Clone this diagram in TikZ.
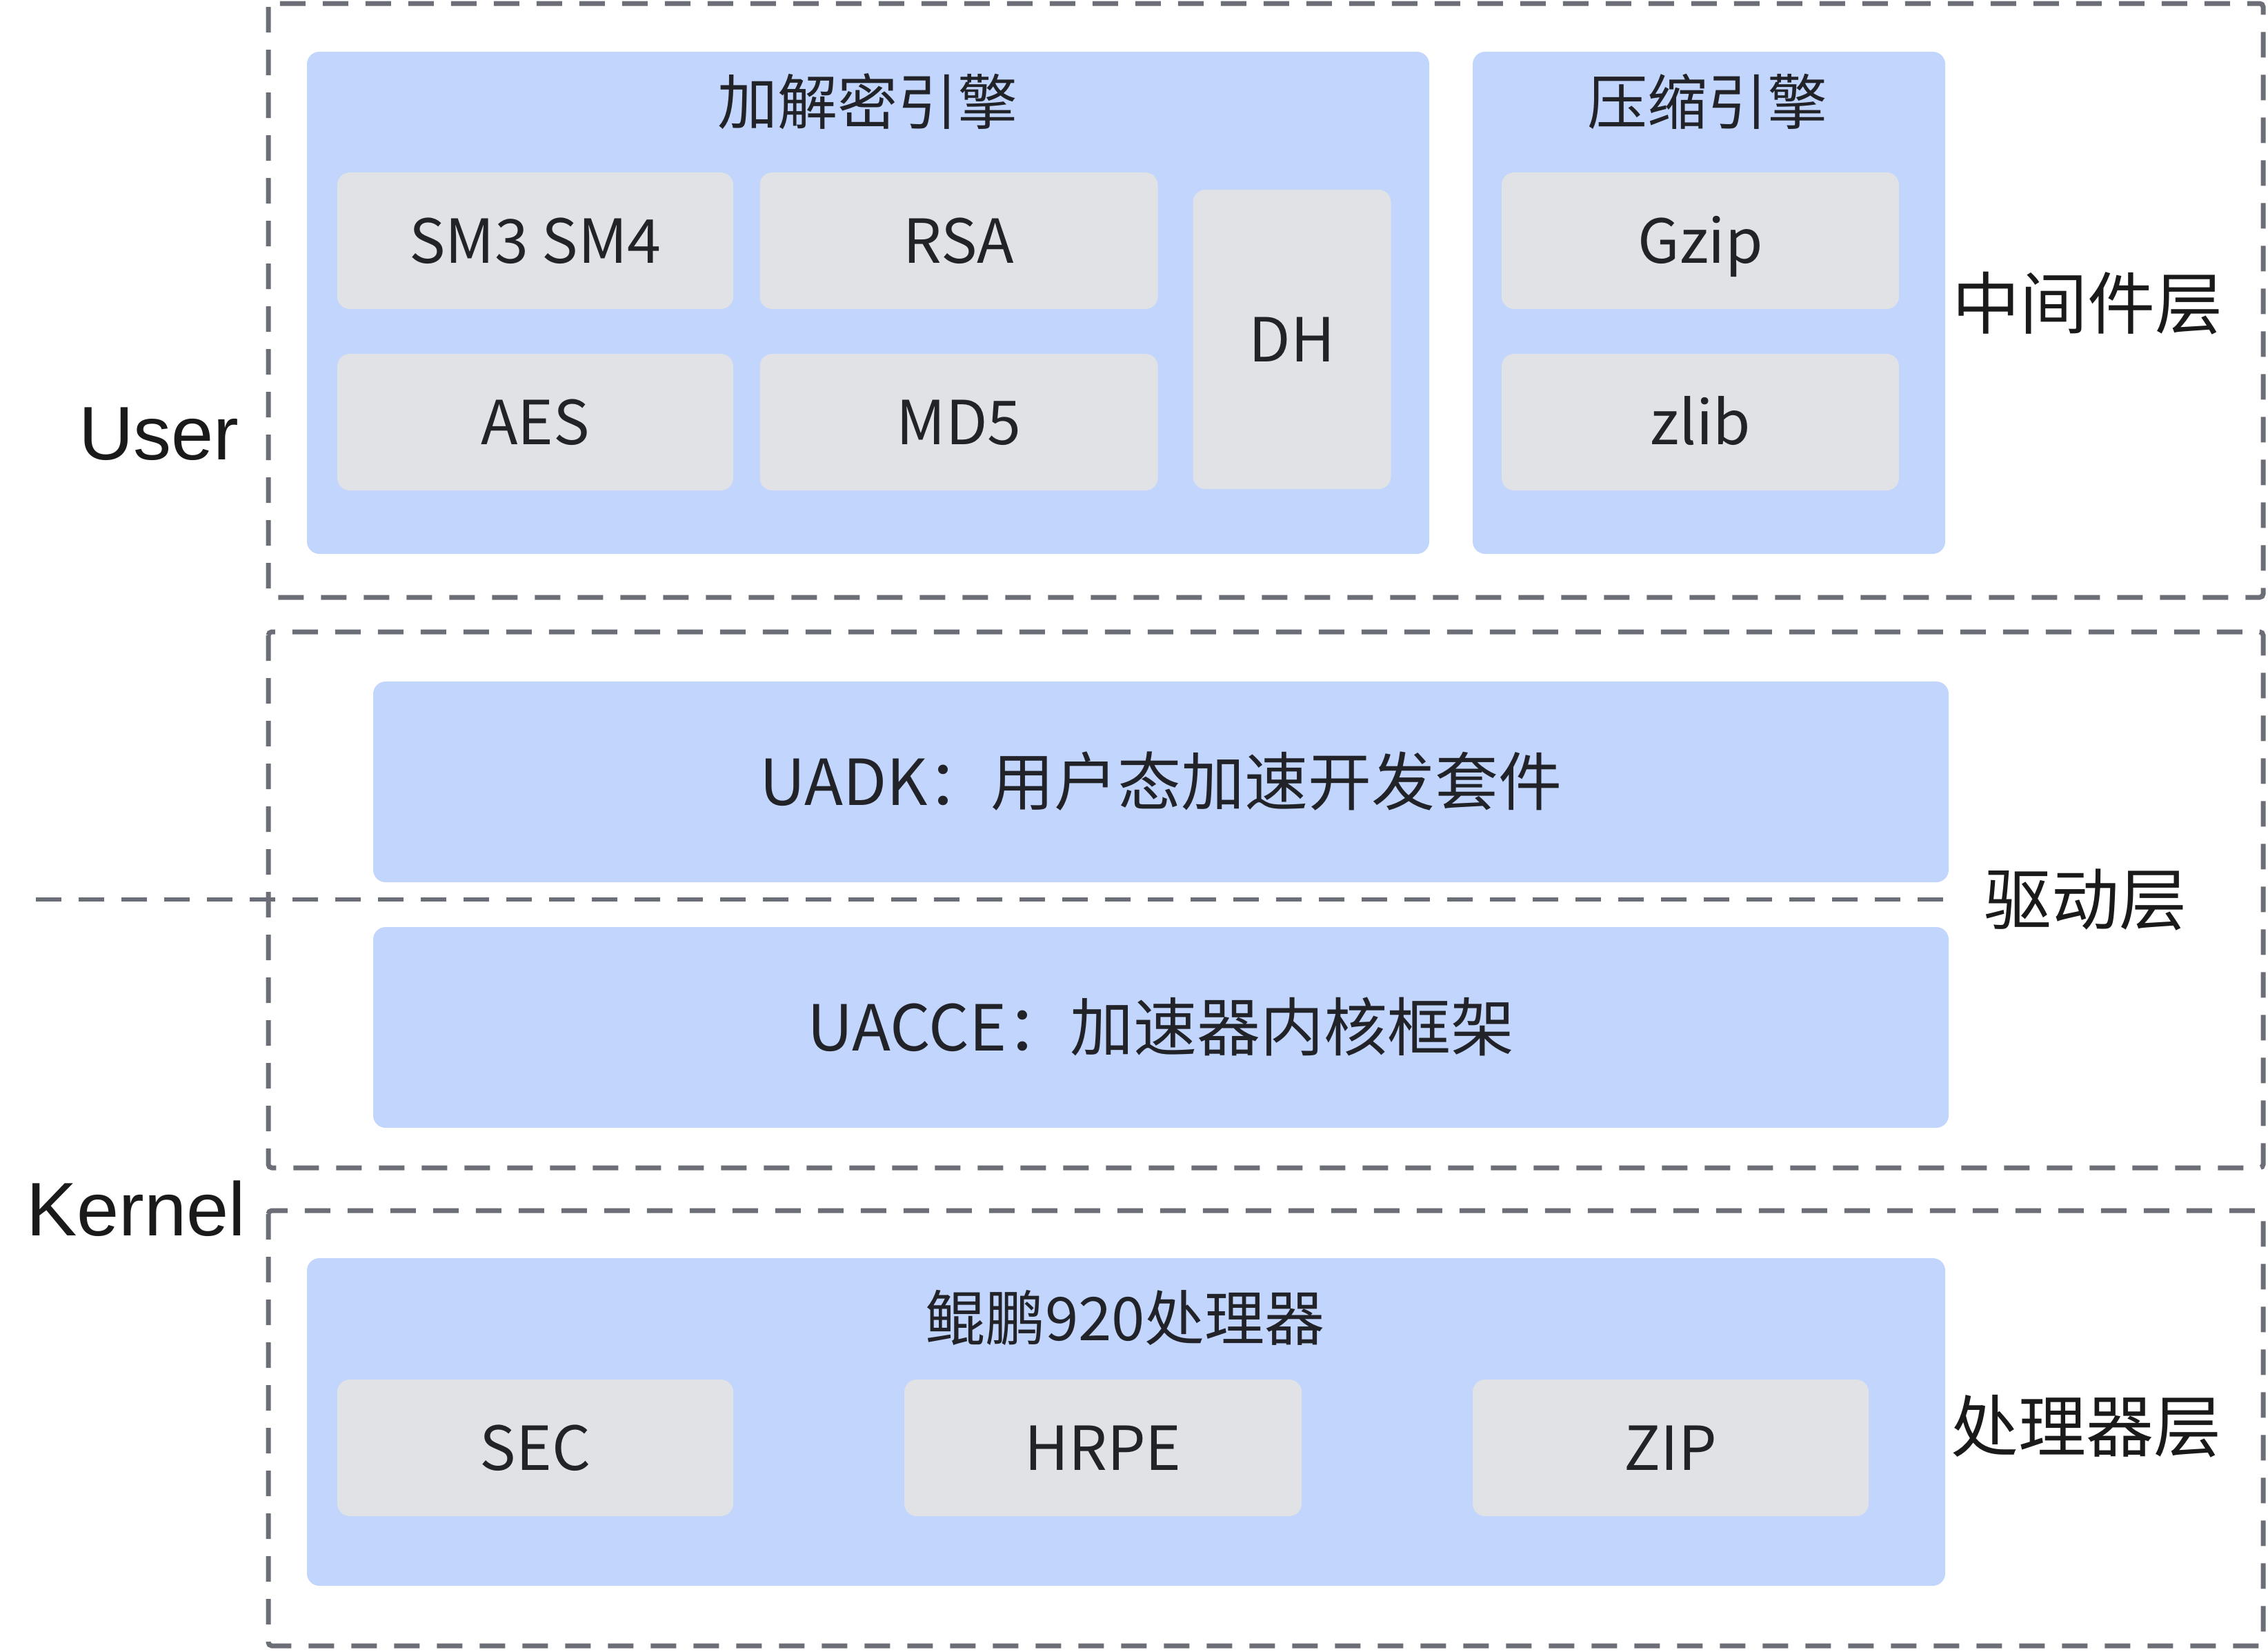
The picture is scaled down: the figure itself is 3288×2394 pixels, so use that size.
\documentclass[tikz,border=0pt]{standalone}
\usepackage{fontspec}
\setmainfont{Noto Sans CJK SC}
\newfontfamily\latinlabel{Liberation Sans}
\definecolor{blueFill}{RGB}{194,213,253}
\definecolor{grayFill}{RGB}{224,226,230}
\definecolor{dashGray}{RGB}{107,110,119}
\definecolor{innerText}{RGB}{34,35,40}
\definecolor{labelText}{RGB}{26,26,26}
\tikzset{
  layerbox/.style={draw=dashGray, line width=7pt, dash pattern=on 37pt off 25pt, rounded corners=5pt},
  layerline/.style={draw=dashGray, line width=6pt, dash pattern=on 37pt off 25pt},
  bluebox/.style={fill=blueFill, rounded corners=18pt, inner sep=0pt},
  graybox/.style={fill=grayFill, rounded corners=18pt, inner sep=0pt, text=innerText,
     font=\fontsize{88}{100}\selectfont, text height=65pt, text depth=0pt},
  titletext/.style={text=innerText, inner sep=0pt, font=\fontsize{87}{100}\selectfont, text height=64pt, text depth=0pt},
  bigtext/.style={text=innerText, inner sep=0pt, font=\fontsize{92}{100}\selectfont, text height=68pt, text depth=0pt},
  sidelabel/.style={text=labelText, inner sep=0pt, font=\fontsize{98}{110}\selectfont, text height=72pt, text depth=0pt},
  ukLabel/.style={text=labelText, inner sep=0pt, anchor=base west, font=\latinlabel\fontsize{110}{120}\selectfont},
}
\begin{document}
\begin{tikzpicture}[x=1pt,y=-1pt]
\useasboundingbox (0,0) rectangle (3288,2394);
% layer frames
\draw[layerbox] (389,5) rectangle (3281,866);
\draw[layerbox] (389,916) rectangle (3281,1693);
\draw[layerbox] (389,1755) rectangle (3281,2386);
% blue containers
\node[bluebox, minimum width=1627, minimum height=728] (enc) at (1258.5,439) {};
\node[bluebox, minimum width=685, minimum height=728] (comp) at (2477.5,439) {};
\node[bluebox, minimum width=2284, minimum height=291] (uadk) at (1683,1133.5) {};
\node[bluebox, minimum width=2284, minimum height=291] (uacce) at (1683,1489.5) {};
\node[bluebox, minimum width=2375, minimum height=475] (kp) at (1632.5,2061.5) {};
% middle dashed line
\coordinate (mlL) at (52,1304);
\coordinate (mlR) at (2825,1304);
\draw[layerline] (mlL) -- (mlR);
% titles
\node[titletext] (encT) at (1258,148) {加解密引擎};
\node[titletext] (compT) at (2475,148) {压缩引擎};
\node[titletext] (kpT) at (1631,1911) {鲲鹏920处理器};
\node[bigtext] (uadkT) at (1683,1133) {UADK：用户态加速开发套件};
\node[bigtext] (uacceT) at (1683,1489) {UACCE：加速器内核框架};
% gray boxes
\node[graybox, minimum width=574, minimum height=198] (sm) at (776,349) {SM3 SM4};
\node[graybox, minimum width=577, minimum height=198] (rsa) at (1390,349) {RSA};
\node[graybox, minimum width=574, minimum height=198] (aes) at (776,612) {AES};
\node[graybox, minimum width=577, minimum height=198] (md5) at (1390,612) {MD5};
\node[graybox, minimum width=287, minimum height=434] (dh) at (1873,492) {DH};
\node[graybox, minimum width=576, minimum height=198] (gzip) at (2465,349) {Gzip};
\node[graybox, minimum width=576, minimum height=198] (zlib) at (2465,612) {zlib};
\node[graybox, minimum width=574, minimum height=198] (sec) at (776,2099) {SEC};
\node[graybox, minimum width=576, minimum height=198] (hrpe) at (1599,2099) {HRPE};
\node[graybox, minimum width=574, minimum height=198] (zip) at (2422,2099) {ZIP};
% side labels
\node[sidelabel] (l1) at (3026,440) {中间件层};
\node[sidelabel] (l2) at (3023,1304) {驱动层};
\node[sidelabel] (l3) at (3024,2068) {处理器层};
\node[ukLabel] (user) at (114,666) {User};
\node[ukLabel] (kernel) at (38,1791) {Kernel};
\end{tikzpicture}
\end{document}
